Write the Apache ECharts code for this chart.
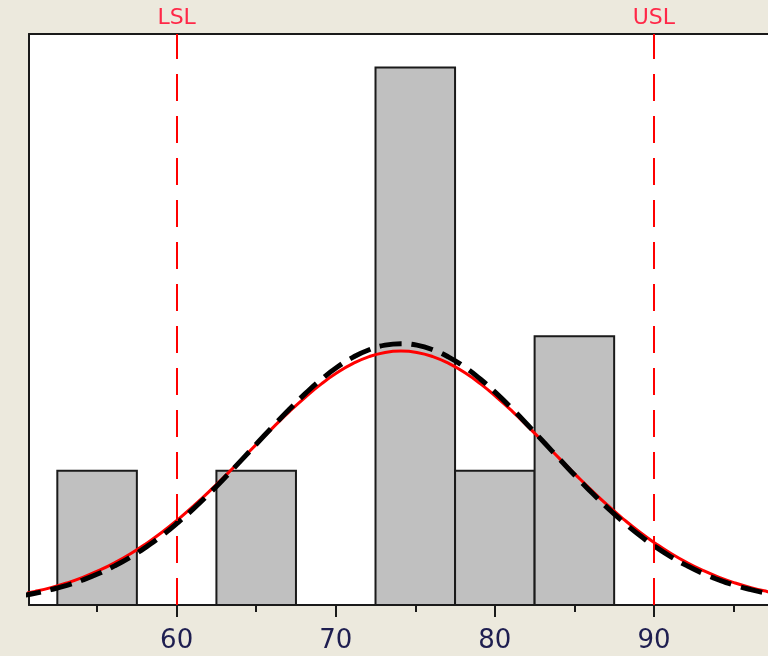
<!DOCTYPE html>
<html><head><meta charset="utf-8">
<script src="https://cdn.jsdelivr.net/npm/echarts@6/dist/echarts.min.js"></script>
<style>html,body{margin:0;padding:0;background:#ece9dd}#c{width:768px;height:656px}</style>
</head><body><div id="c"></div>
<script>
// Histogram bins (start, end) and counts
const binStarts = [52.5, 62.5, 72.5, 77.5, 82.5];
const binEnds   = [57.5, 67.5, 77.5, 82.5, 87.5];
const counts    = [1, 1, 4, 1, 2];

// Fitted curves (x, height in counts)
const curveX = [50.1,51.1,52.1,53.1,54.1,55.1,56.1,57.1,58.1,59.1,60.1,61.1,62.1,63.1,64.1,65.1,66.1,67.1,68.1,69.1,70.1,71.1,72.1,73.1,74.1,
  75.1,76.1,77.1,78.1,79.1,80.1,81.1,82.1,83.1,84.1,85.1,86.1,87.1,88.1,89.1,90.1,91.1,92.1,93.1,94.1,95.1,96.1,97.1,98.1];
const overallFit = [0.078,0.101,0.129,0.164,0.206,0.256,0.314,0.381,0.458,0.543,0.638,0.741,0.851,0.967,1.086,1.207,1.326,1.441,1.548,1.646,1.730,1.798,1.849,1.880,1.890,
  1.880,1.849,1.798,1.730,1.646,1.548,1.441,1.326,1.207,1.086,0.967,0.851,0.741,0.638,0.543,0.458,0.381,0.314,0.256,0.206,0.164,0.129,0.101,0.078];
const withinFit = [0.066,0.087,0.114,0.146,0.186,0.234,0.291,0.357,0.433,0.519,0.616,0.721,0.835,0.956,1.082,1.209,1.336,1.459,1.575,1.680,1.771,1.845,1.900,1.934,1.945,
  1.934,1.900,1.845,1.771,1.680,1.575,1.459,1.336,1.209,1.082,0.956,0.835,0.721,0.616,0.519,0.433,0.357,0.291,0.234,0.186,0.146,0.114,0.087,0.066];

// Spec limits
const specNames  = ['LSL', 'USL'];
const specValues = [60, 90];

// Axis ticks
const majorTicks = [60, 70, 80, 90];
const minorTicks = [55, 65, 75, 85, 95];
const xMin = 50.72, xMax = 97.17, yMax = 4.25;

const chart = echarts.init(document.getElementById('c'));
const zip = (xs, ys) => xs.map((x, i) => [x, ys[i]]);
const frameLine = {show: true, onZero: false, lineStyle: {color: '#1a1a1a', width: 2}};

chart.setOption({
  backgroundColor: '#ece9dd',
  animation: false,
  grid: {left: 29, right: 0, top: 34, bottom: 51, show: true,
         backgroundColor: '#ffffff', borderWidth: 0},
  xAxis: [{
    type: 'value', min: xMin, max: xMax, position: 'bottom',
    axisLine: frameLine,
    axisTick: {show: true, customValues: majorTicks, length: 12, lineStyle: {color: '#1a1a1a', width: 2}},
    axisLabel: {show: true, customValues: majorTicks, margin: 23, color: '#1e1e50',
                fontSize: 26, fontFamily: 'DejaVu Sans'},
    splitLine: {show: false}
  }, {
    type: 'value', min: xMin, max: xMax, position: 'bottom',
    axisLine: {show: false},
    axisTick: {show: true, customValues: minorTicks, length: 7, lineStyle: {color: '#1a1a1a', width: 2}},
    axisLabel: {show: false},
    splitLine: {show: false}
  }, {
    type: 'value', min: xMin, max: xMax, position: 'top',
    axisLine: frameLine, axisTick: {show: false}, axisLabel: {show: false}, splitLine: {show: false}
  }],
  yAxis: {type: 'value', min: 0, max: yMax, position: 'left',
    axisLine: frameLine, axisTick: {show: false}, axisLabel: {show: false}, splitLine: {show: false}},
  series: [{
    type: 'custom', xAxisIndex: 0, clip: true,
    data: binStarts.map((s, i) => [s, binEnds[i], counts[i]]),
    encode: {x: [0, 1], y: 2},
    renderItem: (params, api) => {
      const p0 = api.coord([api.value(0), api.value(2)]);
      const p1 = api.coord([api.value(1), 0]);
      return {type: 'rect',
        shape: {x: p0[0], y: p0[1], width: p1[0] - p0[0], height: p1[1] - p0[1]},
        style: {fill: '#c0c0c0', stroke: '#1a1a1a', lineWidth: 2}};
    },
    z: 1
  }, {
    type: 'line', xAxisIndex: 0, data: zip(curveX, overallFit), smooth: true,
    showSymbol: false, lineStyle: {color: '#ff0000', width: 3}, z: 3,
    markLine: {
      silent: true, symbol: 'none',
      lineStyle: {color: '#ff0000', type: [27, 15], width: 2},
      label: {show: true, position: 'end', distance: 5, color: '#ff2848',
              fontSize: 22, fontFamily: 'DejaVu Sans', formatter: p => p.name},
      data: specValues.map((v, i) => ({name: specNames[i], xAxis: v}))
    }
  }, {
    type: 'line', xAxisIndex: 0, data: zip(curveX, withinFit), smooth: true,
    showSymbol: false, lineStyle: {color: '#000000', width: 5, type: [22, 10]}, z: 4
  }]
});
</script></body></html>
